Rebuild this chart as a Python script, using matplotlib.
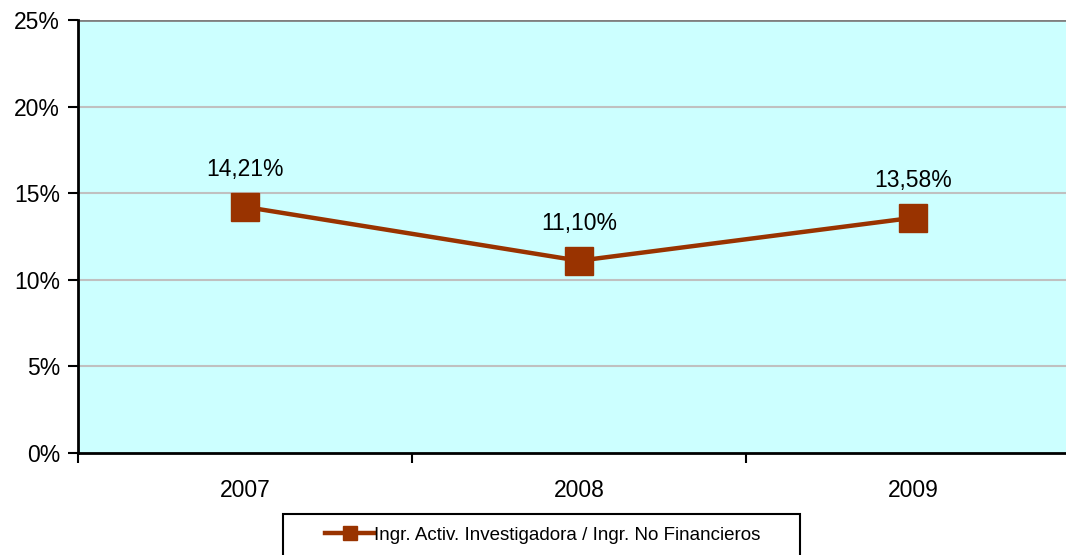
import matplotlib
matplotlib.use("Agg")
import matplotlib.pyplot as plt
from matplotlib.ticker import FixedLocator, NullFormatter
from matplotlib.patches import Rectangle

years = ["2007", "2008", "2009"]
values = [14.21, 11.10, 13.58]
labels = ["14,21%", "11,10%", "13,58%"]
series_name = "Ingr. Activ. Investigadora / Ingr. No Financieros"
yticks = [0, 5, 10, 15, 20, 25]

plt.rcParams['font.family'] = ['Liberation Sans', 'DejaVu Sans']

W, H = 1066, 555
fig = plt.figure(figsize=(W/100, H/100), dpi=100)
ax = fig.add_axes([78/W, 102/H, 1002/W, 433/H])
ax.set_facecolor('#CCFFFF')

x = list(range(len(years)))
line_color = '#993300'
ax.plot(x, values, color=line_color, lw=3.2, marker='s', ms=19.5,
        mec=line_color, mfc=line_color, label=series_name, zorder=3, clip_on=False)
for xi, v, t in zip(x, values, labels):
    ax.annotate(t, (xi, v), xytext=(0, 27), textcoords='offset points',
                ha='center', va='center', fontsize=16.5)

ax.set_xlim(-0.5, 2.5)
ax.set_ylim(0, 25)
ax.set_yticks(yticks)
ax.set_yticklabels([f"{t}%" for t in yticks])
for t in yticks[1:-1]:
    ax.axhline(t, color='#C0C0C0', lw=1.5, zorder=1)
ax.axhline(25, color='#808080', lw=2, zorder=1)

ax.set_xticks(x)
ax.set_xticklabels(years)
ax.xaxis.set_minor_locator(FixedLocator([-0.5, 0.5, 1.5, 2.5]))
ax.xaxis.set_minor_formatter(NullFormatter())
ax.tick_params(axis='x', which='major', length=0, pad=19, labelsize=16.5)
ax.tick_params(axis='x', which='minor', length=7, width=1.5, direction='out')
ax.tick_params(axis='y', length=7, width=1.5, direction='out', labelsize=16.5, pad=6)

for s in ['top', 'right']:
    ax.spines[s].set_visible(False)
for s in ['left', 'bottom']:
    ax.spines[s].set_linewidth(2)
    ax.spines[s].set_color('black')

# legend without frame, frame drawn separately
leg = fig.legend(loc='center', bbox_to_anchor=(543/W, 1-535/H),
                 frameon=False, fontsize=13.5,
                 handlelength=2.6, handletextpad=0.0, borderpad=0.8,
                 markerscale=0.55, borderaxespad=0)
fig.patches.append(Rectangle((283/W, -10/H), (800-283)/W, (10+555-514)/H,
                             transform=fig.transFigure, fill=False,
                             edgecolor='black', lw=1.5, zorder=5))

fig.savefig('out.png', dpi=100)
